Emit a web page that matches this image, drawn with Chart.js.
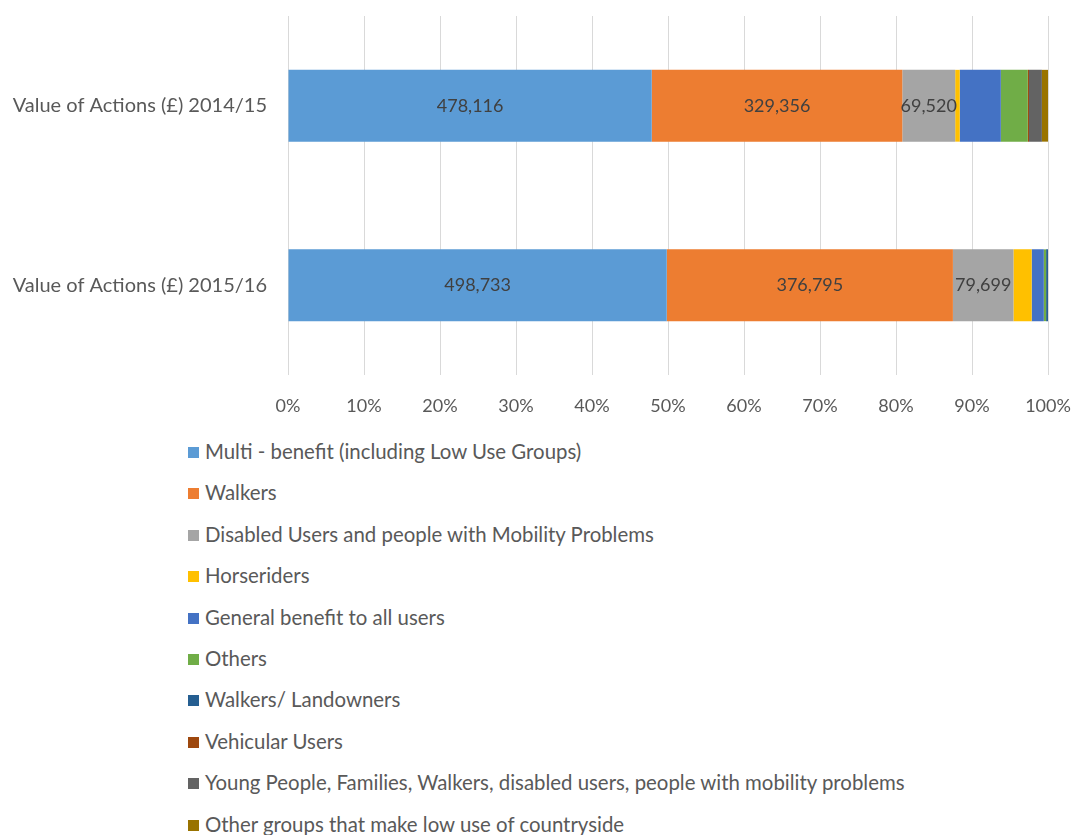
<!DOCTYPE html>
<html lang="en">
  <head>
    <meta charset="UTF-8" />
    <title>Value of Actions</title>
    <script src="https://cdn.jsdelivr.net/npm/chart.js"></script>
    <style>
      body { margin: 0; background: #fff; font-family: Lato, sans-serif; }
      .grafico { position: absolute; left: 0; top: 0; width: 1075px; height: 430px; }
      #legenda { position: absolute; left: 188px; top: 440px; margin: 0; padding: 0; list-style: none; }
      #legenda li { height: 41.4px; line-height: 22px; font-size: 20.4px; color: #595959; white-space: nowrap; }
      #legenda span { display: inline-block; width: 11px; height: 11px; margin-right: 6px; vertical-align: 1px; }
    </style>
  </head>
  <body>
    <div class="grafico">
      <canvas id="valores"></canvas>
    </div>
    <ul id="legenda"></ul>

<script>
  // categorias e valores (£)
  var categorias = ["Value of Actions (£) 2014/15", "Value of Actions (£) 2015/16"];
  var multiBenefit = [478116, 498733];
  var walkers = [329356, 376795];
  var disabled = [69520, 79699];
  var horseriders = [6000, 24000];
  var generalBenefit = [54000, 16000];
  var others = [35500, 3000];
  var walkersLandowners = [0, 2500];
  var vehicular = [1500, 0];
  var youngPeople = [17000, 0];
  var lowUse = [8000, 0];
  var ticksX = ["0%", "10%", "20%", "30%", "40%", "50%", "60%", "70%", "80%", "90%", "100%"];

  var series = [
    ["Multi - benefit (including Low Use Groups)", multiBenefit, "#5B9BD5"],
    ["Walkers", walkers, "#ED7D31"],
    ["Disabled Users and people with Mobility Problems", disabled, "#A5A5A5"],
    ["Horseriders", horseriders, "#FFC000"],
    ["General benefit to all users", generalBenefit, "#4472C4"],
    ["Others", others, "#70AD47"],
    ["Walkers/ Landowners", walkersLandowners, "#255E91"],
    ["Vehicular Users", vehicular, "#9E480E"],
    ["Young People, Families, Walkers, disabled users, people with mobility problems", youngPeople, "#636363"],
    ["Other groups that make low use of countryside", lowUse, "#997300"],
  ];

  // totais por linha para o grafico 100% empilhado
  var totais = categorias.map(function (c, i) {
    return series.reduce(function (s, d) { return s + d[1][i]; }, 0);
  });

  var datasets = series.map(function (d) {
    return {
      label: d[0],
      data: d[1].map(function (v, i) { return (v / totais[i]) * 100; }),
      valores: d[1],
      backgroundColor: d[2],
      borderWidth: 0,
      categoryPercentage: 1,
      barPercentage: 0.4,
    };
  });

  // escreve o valor dentro de cada segmento largo
  var rotulos = {
    id: "rotulos",
    afterDatasetsDraw: function (chart) {
      var ctx = chart.ctx;
      ctx.save();
      ctx.font = "18px Lato";
      ctx.fillStyle = "#404040";
      ctx.textAlign = "center";
      ctx.textBaseline = "middle";
      chart.data.datasets.forEach(function (ds, di) {
        chart.getDatasetMeta(di).data.forEach(function (bar, i) {
          var largura = Math.abs(bar.x - bar.base);
          if (largura > 50) {
            ctx.fillText(ds.valores[i].toLocaleString("en-GB"), (bar.x + bar.base) / 2, bar.y);
          }
        });
      });
      ctx.restore();
    },
  };

  var ctx = document.getElementById("valores");
  var grafico = new Chart(ctx, {
    type: "bar",
    data: { labels: categorias, datasets: datasets },
    options: {
      indexAxis: "y",
      responsive: true,
      maintainAspectRatio: false,
      animation: false,
      layout: { padding: { top: 16, right: 27, left: 0, bottom: 0 } },
      plugins: { legend: { display: false }, tooltip: { enabled: false } },
      scales: {
        x: {
          stacked: true,
          min: 0,
          max: 100,
          grid: { color: "#d9d9d9", drawTicks: false },
          border: { display: false },
          ticks: {
            stepSize: 10,
            padding: 20,
            color: "#595959",
            font: { family: "Lato", size: 18 },
            callback: function (v, i) { return ticksX[i]; },
          },
          afterFit: function (s) { s.height = 55; s.paddingLeft = 0; s.paddingRight = 0; },
        },
        y: {
          stacked: true,
          grid: { display: false, drawTicks: false },
          border: { display: false },
          ticks: { padding: 21, color: "#595959", font: { family: "Lato", size: 20 } },
          afterFit: function (s) { s.width = 288; s.paddingTop = 0; s.paddingBottom = 0; },
        },
      },
    },
    plugins: [rotulos],
  });

  var legenda = document.getElementById("legenda");
  series.forEach(function (d) {
    var li = document.createElement("li");
    li.innerHTML = '<span style="background:' + d[2] + '"></span>' + d[0];
    legenda.appendChild(li);
  });
</script>
  </body>
</html>
